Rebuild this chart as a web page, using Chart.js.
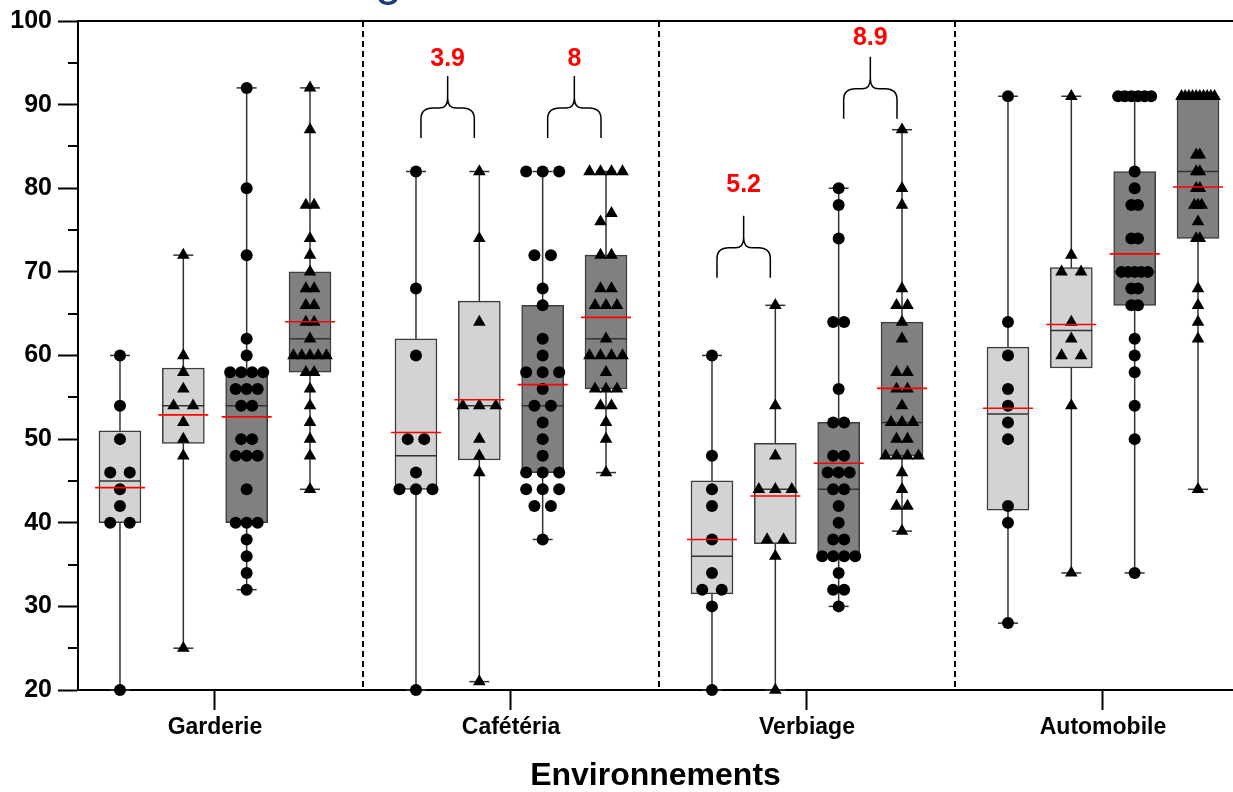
<!DOCTYPE html>
<html>
<head>
<meta charset="utf-8">
<script src="https://cdn.jsdelivr.net/npm/chart.js@4.4.1/dist/chart.umd.min.js"></script>
<style>
  html, body { margin: 0; padding: 0; background: #fff; }
</style>
</head>
<body>
<canvas id="myChart" width="1233" height="792"></canvas>
<script>
const categories = ['Garderie', 'Cafétéria', 'Verbiage', 'Automobile'];

// one array of values per box, four boxes per environment
const garderie = [
    [60, 54, 50, 46, 46, 44, 42, 40, 40, 20],
    [72, 60, 58, 56, 54, 54, 52, 50, 48, 25],
    [92, 80, 72, 62, 60, 58, 58, 58, 58, 56, 56, 56, 54, 54, 50, 50, 48, 48, 48, 44, 40, 40, 40, 38, 36, 34, 32],
    [92, 87, 78, 78, 74, 72, 70, 68, 68, 66, 66, 64, 64, 62, 60, 60, 60, 60, 60, 58, 58, 56, 54, 52, 50, 48, 44]
];
const cafeteria = [
    [82, 68, 60, 50, 50, 46, 44, 44, 44, 20],
    [82, 74, 64, 54, 54, 54, 50, 48, 46, 21],
    [82, 82, 82, 72, 72, 68, 66, 62, 60, 58, 58, 58, 56, 54, 54, 52, 50, 48, 46, 46, 46, 44, 44, 44, 42, 42, 38],
    [82, 82, 82, 82, 77, 76, 72, 72, 68, 68, 66, 66, 66, 62, 60, 60, 60, 60, 58, 56, 56, 56, 54, 54, 52, 50, 46]
];
const verbiage = [
    [60, 48, 44, 42, 38, 34, 32, 32, 30, 20],
    [66, 54, 48, 44, 44, 44, 38, 38, 36, 20],
    [80, 78, 74, 64, 64, 56, 52, 52, 48, 48, 46, 46, 46, 44, 44, 42, 40, 38, 38, 36, 36, 36, 36, 34, 32, 32, 30],
    [87, 80, 78, 68, 66, 66, 64, 62, 58, 58, 56, 56, 54, 52, 52, 52, 50, 50, 48, 48, 48, 48, 46, 44, 42, 42, 39]
];
const automobile = [
    [91, 64, 60, 56, 54, 52, 50, 42, 40, 28],
    [91, 72, 70, 70, 64, 62, 60, 60, 54, 34],
    [91, 91, 91, 91, 91, 91, 82, 80, 78, 78, 74, 74, 70, 70, 70, 70, 70, 68, 68, 66, 66, 62, 60, 58, 54, 50, 34],
    [91, 91, 91, 91, 91, 91, 91, 91, 91, 91, 84, 84, 82, 82, 80, 80, 78, 78, 78, 76, 74, 74, 68, 66, 64, 62, 44]
];

// brace annotations (differences shown in red)
const braceGroup = [1, 1, 2, 2];
const braceFirstBox = [0, 2, 0, 2];
const braceBase = [86, 86, 69.3, 88.3];
const braceLabelAt = [95.4, 95.4, 80.4, 98];
const braceLabels = ['3.9', '8', '5.2', '8.9'];

const groups = [garderie, cafeteria, verbiage, automobile];
const BOX_STEP = 0.214;  // distance between boxes inside a group (x units)
const FONT = "'Liberation Sans', Arial, sans-serif";

function quantile(sorted, p) {
    // (n+1)p method, same as Prism
    const h = p * (sorted.length + 1);
    const lo = Math.floor(h);
    if (lo < 1) return sorted[0];
    if (lo >= sorted.length) return sorted[sorted.length - 1];
    return sorted[lo - 1] + (h - lo) * (sorted[lo] - sorted[lo - 1]);
}

const columns = [];
groups.forEach((boxes, gi) => {
    boxes.forEach((vals, k) => {
        const s = [...vals].sort((a, b) => a - b);
        columns.push({
            pos: gi + (k - 1.5) * BOX_STEP,
            vals: vals,
            circle: k % 2 === 0,
            dark: k >= 2,
            min: s[0],
            max: s[s.length - 1],
            q1: quantile(s, 0.25),
            median: quantile(s, 0.5),
            q3: quantile(s, 0.75),
            mean: s.reduce((a, b) => a + b, 0) / s.length
        });
    });
});

// spread equal values sideways, like a column scatter
function buildPoints(circle, pxPerUnit) {
    const pts = [];
    columns.filter(c => c.circle === circle).forEach(col => {
        const bins = {};
        col.vals.forEach(v => {
            const b = Math.floor(v / 2);
            (bins[b] = bins[b] || []).push(v);
        });
        const rows = Object.values(bins);
        const maxRow = Math.max(...rows.map(r => r.length));
        const step = maxRow > 1 ? Math.min(19.5, 33 / (maxRow - 1)) : 0;
        rows.forEach(r => {
            r.sort((a, b) => a - b);
            r.forEach((v, j) => {
                pts.push({ x: col.pos + (j - (r.length - 1) / 2) * step / pxPerUnit, y: v });
            });
        });
    });
    return pts;
}

function hline(ctx, x1, x2, y) {
    ctx.beginPath();
    ctx.moveTo(x1, y);
    ctx.lineTo(x2, y);
    ctx.stroke();
}

function drawBrace(ctx, xl, xr, yb) {
    const xm = (xl + xr) / 2;
    const yh = yb - 30;
    const yp = yb - 62;
    ctx.beginPath();
    ctx.moveTo(xl, yb);
    ctx.lineTo(xl, yh + 11);
    ctx.quadraticCurveTo(xl, yh, xl + 12, yh);
    ctx.lineTo(xm - 8, yh);
    ctx.quadraticCurveTo(xm, yh, xm, yh - 10);
    ctx.lineTo(xm, yp);
    ctx.moveTo(xr, yb);
    ctx.lineTo(xr, yh + 11);
    ctx.quadraticCurveTo(xr, yh, xr - 12, yh);
    ctx.lineTo(xm + 8, yh);
    ctx.quadraticCurveTo(xm, yh, xm, yh - 10);
    ctx.stroke();
}

const decor = {
    id: 'decor',
    beforeDatasetsDraw(chart) {
        const { ctx, chartArea: a, scales: { x, y } } = chart;
        ctx.save();
        // dashed separators between environments
        ctx.strokeStyle = '#000';
        ctx.lineWidth = 2;
        ctx.setLineDash([6, 4]);
        [0.5, 1.5, 2.5].forEach(v => {
            const px = Math.round(x.getPixelForValue(v));
            ctx.beginPath();
            ctx.moveTo(px, a.top);
            ctx.lineTo(px, a.bottom);
            ctx.stroke();
        });
        ctx.setLineDash([]);
        // top frame line
        hline(ctx, a.left, chart.width, a.top);
        // minor ticks
        for (let v = 25; v < 100; v += 10) {
            hline(ctx, a.left - 10, a.left, Math.round(y.getPixelForValue(v)));
        }
        // whiskers and caps
        ctx.strokeStyle = '#333';
        ctx.lineWidth = 1.5;
        columns.forEach(c => {
            const px = x.getPixelForValue(c.pos);
            ctx.beginPath();
            ctx.moveTo(px, y.getPixelForValue(c.min));
            ctx.lineTo(px, y.getPixelForValue(c.max));
            ctx.stroke();
            hline(ctx, px - 10, px + 10, y.getPixelForValue(c.min));
            hline(ctx, px - 10, px + 10, y.getPixelForValue(c.max));
        });
        ctx.restore();
    },
    afterDatasetDraw(chart, args) {
        if (args.meta.type !== 'bar') return;
        const { ctx, scales: { x, y } } = chart;
        ctx.save();
        ctx.strokeStyle = '#333';
        ctx.lineWidth = 1.5;
        columns.forEach(c => {
            const px = x.getPixelForValue(c.pos);
            hline(ctx, px - 21, px + 21, y.getPixelForValue(c.median));
        });
        ctx.restore();
    },
    afterDatasetsDraw(chart) {
        const { ctx, scales: { x, y } } = chart;
        ctx.save();
        // means
        ctx.strokeStyle = '#ff0000';
        ctx.lineWidth = 1.6;
        columns.forEach(c => {
            const px = x.getPixelForValue(c.pos);
            hline(ctx, px - 25, px + 25, y.getPixelForValue(c.mean));
        });
        // braces with differences
        ctx.strokeStyle = '#000';
        ctx.lineWidth = 1.5;
        ctx.font = 'bold 25px ' + FONT;
        ctx.fillStyle = '#ff0000';
        ctx.textAlign = 'center';
        ctx.textBaseline = 'middle';
        braceLabels.forEach((label, i) => {
            const first = columns[braceGroup[i] * 4 + braceFirstBox[i]];
            const second = columns[braceGroup[i] * 4 + braceFirstBox[i] + 1];
            const xl = x.getPixelForValue(first.pos) + 5;
            const xr = x.getPixelForValue(second.pos) - 5;
            drawBrace(ctx, xl, xr, y.getPixelForValue(braceBase[i]));
            ctx.fillText(label, (xl + xr) / 2, y.getPixelForValue(braceLabelAt[i]));
        });
        // bit of the cut title above the plot
        ctx.font = '48px ' + FONT;
        ctx.fillStyle = '#1c3c78';
        ctx.textAlign = 'left';
        ctx.textBaseline = 'alphabetic';
        ctx.fillText('g', 375, -5);
        ctx.restore();
    }
};

const boxData = columns.map(c => ({ x: c.pos, y: [c.q1, c.q3] }));

const chart = new Chart(document.getElementById('myChart').getContext('2d'), {
    type: 'bar',
    data: {
        datasets: [
            {
                type: 'bar',
                data: boxData,
                backgroundColor: columns.map(c => c.dark ? '#808080' : '#d3d3d3'),
                borderColor: '#3c3c3c',
                borderWidth: 1.5,
                borderSkipped: false,
                barThickness: 42,
                grouped: false,
                order: 2
            },
            {
                type: 'scatter',
                data: [],
                pointStyle: 'circle',
                pointRadius: 6,
                pointBackgroundColor: '#000',
                pointBorderWidth: 0,
                clip: false,
                order: 1
            },
            {
                type: 'scatter',
                data: [],
                pointStyle: 'triangle',
                pointRadius: 7.3,
                pointBackgroundColor: '#000',
                pointBorderWidth: 0,
                clip: false,
                order: 0
            }
        ]
    },
    options: {
        responsive: false,
        animation: false,
        devicePixelRatio: 1,
        layout: { autoPadding: false, padding: { top: 18.5, right: 0, bottom: 0, left: 0 } },
        plugins: {
            legend: { display: false },
            tooltip: { enabled: false }
        },
        scales: {
            x: {
                type: 'linear',
                min: -0.4628,
                max: 3.4392,
                offset: false,
                afterBuildTicks: scale => {
                    scale.ticks = categories.map((_, i) => ({ value: i }));
                },
                afterFit: scale => {
                    // plot runs to the right edge of the canvas
                    scale.height = 102;
                    scale.paddingLeft = 0;
                    scale.paddingRight = 0;
                },
                ticks: {
                    autoSkip: false,
                    maxRotation: 0,
                    padding: 4,
                    color: '#000',
                    font: { family: FONT, size: 23, weight: 'bold' },
                    callback: (value, index) => categories[index]
                },
                grid: {
                    offset: false,
                    drawOnChartArea: false,
                    tickLength: 20,
                    tickWidth: 2,
                    tickColor: '#000'
                },
                border: { color: '#000', width: 2 },
                title: {
                    display: true,
                    text: 'Environnements',
                    color: '#000',
                    font: { family: FONT, size: 32, weight: 'bold', lineHeight: 1 },
                    padding: { top: 0, bottom: 0 }
                }
            },
            y: {
                min: 20,
                max: 100,
                afterFit: scale => { scale.width = 78; },
                ticks: {
                    stepSize: 10,
                    padding: 6,
                    color: '#000',
                    font: { family: FONT, size: 25, weight: 'bold' }
                },
                grid: {
                    drawOnChartArea: false,
                    tickLength: 20,
                    tickWidth: 2,
                    tickColor: '#000'
                },
                border: { color: '#000', width: 2 }
            }
        }
    },
    plugins: [decor]
});

const pxPerUnit = chart.scales.x.getPixelForValue(1) - chart.scales.x.getPixelForValue(0);
chart.data.datasets[1].data = buildPoints(true, pxPerUnit);
chart.data.datasets[2].data = buildPoints(false, pxPerUnit);
chart.update('none');
</script>
</body>
</html>
